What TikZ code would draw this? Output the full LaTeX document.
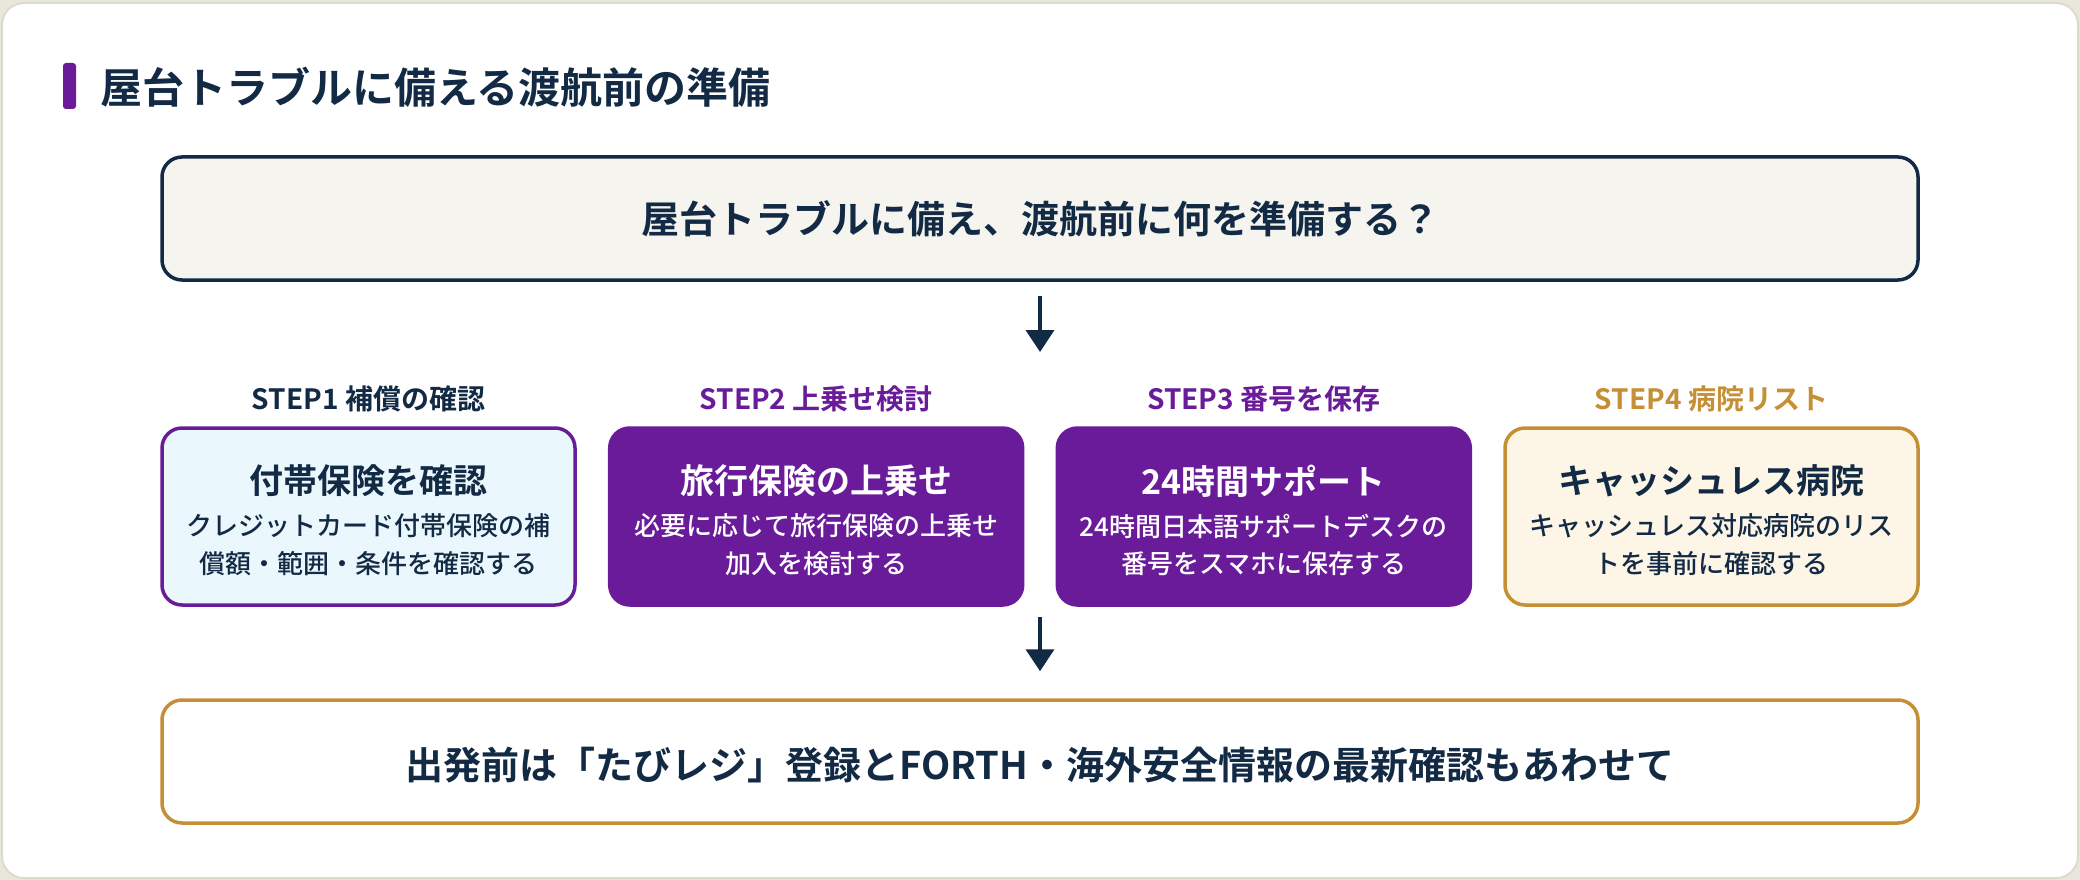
\documentclass[tikz,border=0pt]{standalone}
\usepackage{fontspec}
\setmainfont{Noto Sans CJK JP}[BoldFont={Noto Sans CJK JP Bold}]
\newfontfamily\jpmed{Noto Sans CJK JP Medium}
\usetikzlibrary{arrows.meta}
\definecolor{navy}{HTML}{132A45}
\definecolor{vio}{HTML}{6A1B9A}
\definecolor{gold}{HTML}{C48F35}
\definecolor{cyanbg}{HTML}{EAF7FC}
\definecolor{creambg}{HTML}{FDF6E7}
\definecolor{topbg}{HTML}{F5F4EF}
\definecolor{outbg}{HTML}{E9E7DD}
\definecolor{cardline}{HTML}{DEDBCE}
\newcommand{\fsz}[1]{\fontsize{#1}{#1}\selectfont\bfseries}
\newcommand{\fmd}[1]{\jpmed\fontsize{#1}{#1}\selectfont}
\tikzset{
  wide/.style={minimum width=1756pt, minimum height=123pt, rounded corners=20pt, line width=3.5pt, inner sep=0pt},
  stepbox/.style={minimum width=413pt, minimum height=177pt, rounded corners=20pt, line width=3.5pt, inner sep=0pt},
  steplabel/.style={font=\fsz{28}, inner sep=0pt, anchor=center},
  boxtitle/.style={font=\fsz{34}, inner sep=0pt, anchor=center},
  boxbody/.style={font=\fmd{26}, inner sep=0pt, anchor=center},
  flow/.style={draw=navy, line width=4pt, -{Triangle[width=28pt,length=22pt]}},
}
\begin{document}
\begin{tikzpicture}[x=1pt,y=-1pt]
\useasboundingbox (0,0) rectangle (2080,880);
\fill[outbg] (0,0) rectangle (2080,880);
\draw[cardline, fill=white, line width=2pt, rounded corners=22pt] (2,3) rectangle (2078,878);
% title
\fill[vio, rounded corners=3pt] (63,63) rectangle (76,109);
\node[anchor=west, inner sep=0pt, text=navy, font=\fsz{42}] (title) at (100,87) {屋台トラブルに備える渡航前の準備};
% question
\node[wide, draw=navy, fill=topbg] (q) at (1040,218.5) {};
\node[text=navy, font=\fsz{38}, inner sep=0pt] (qt) at (1040,219) {屋台トラブルに備え、渡航前に何を準備する？};
\coordinate (a1end) at (1040,352);
\draw[flow, shorten <=14pt] (q.south) -- (a1end);
% steps
\node[steplabel, text=navy] (l1) at (368.5,399) {STEP1 補償の確認};
\node[steplabel, text=vio] (l2) at (816.2,399) {STEP2 上乗せ検討};
\node[steplabel, text=vio] (l3) at (1263.8,399) {STEP3 番号を保存};
\node[steplabel, text=gold] (l4) at (1711.5,399) {STEP4 病院リスト};

\node[stepbox, draw=vio, fill=cyanbg] (b1) at (368.5,516.5) {};
\node[stepbox, draw=vio, fill=vio] (b2) at (816.2,516.5) {};
\node[stepbox, draw=vio, fill=vio] (b3) at (1263.8,516.5) {};
\node[stepbox, draw=gold, fill=creambg] (b4) at (1711.5,516.5) {};

\node[boxtitle, text=navy] (b1t) at (368.5,481) {付帯保険を確認};
\node[boxbody, text=navy] (b1a) at (368.5,526) {クレジットカード付帯保険の補};
\node[boxbody, text=navy] (b1b) at (368.5,564) {償額・範囲・条件を確認する};

\node[boxtitle, text=white] (b2t) at (816.2,481) {旅行保険の上乗せ};
\node[boxbody, text=white] (b2a) at (816.2,526) {必要に応じて旅行保険の上乗せ};
\node[boxbody, text=white] (b2b) at (816.2,564) {加入を検討する};

\node[boxtitle, text=white] (b3t) at (1263.8,481) {24時間サポート};
\node[boxbody, text=white] (b3a) at (1263.8,526) {24時間日本語サポートデスクの};
\node[boxbody, text=white] (b3b) at (1263.8,564) {番号をスマホに保存する};

\node[boxtitle, text=navy] (b4t) at (1711.5,481) {キャッシュレス病院};
\node[boxbody, text=navy] (b4a) at (1711.5,526) {キャッシュレス対応病院のリス};
\node[boxbody, text=navy] (b4b) at (1711.5,564) {トを事前に確認する};

% bottom
\coordinate (rowbot) at (1040,605);
\node[wide, draw=gold, fill=white] (bot) at (1040,761.5) {};
\node[text=navy, font=\fsz{38}, inner sep=0pt] (bt) at (1040,765) {出発前は「たびレジ」登録とFORTH・海外安全情報の最新確認もあわせて};
\draw[flow, shorten <=12pt, shorten >=27pt] (rowbot) -- (bot.north);
\end{tikzpicture}
\end{document}
